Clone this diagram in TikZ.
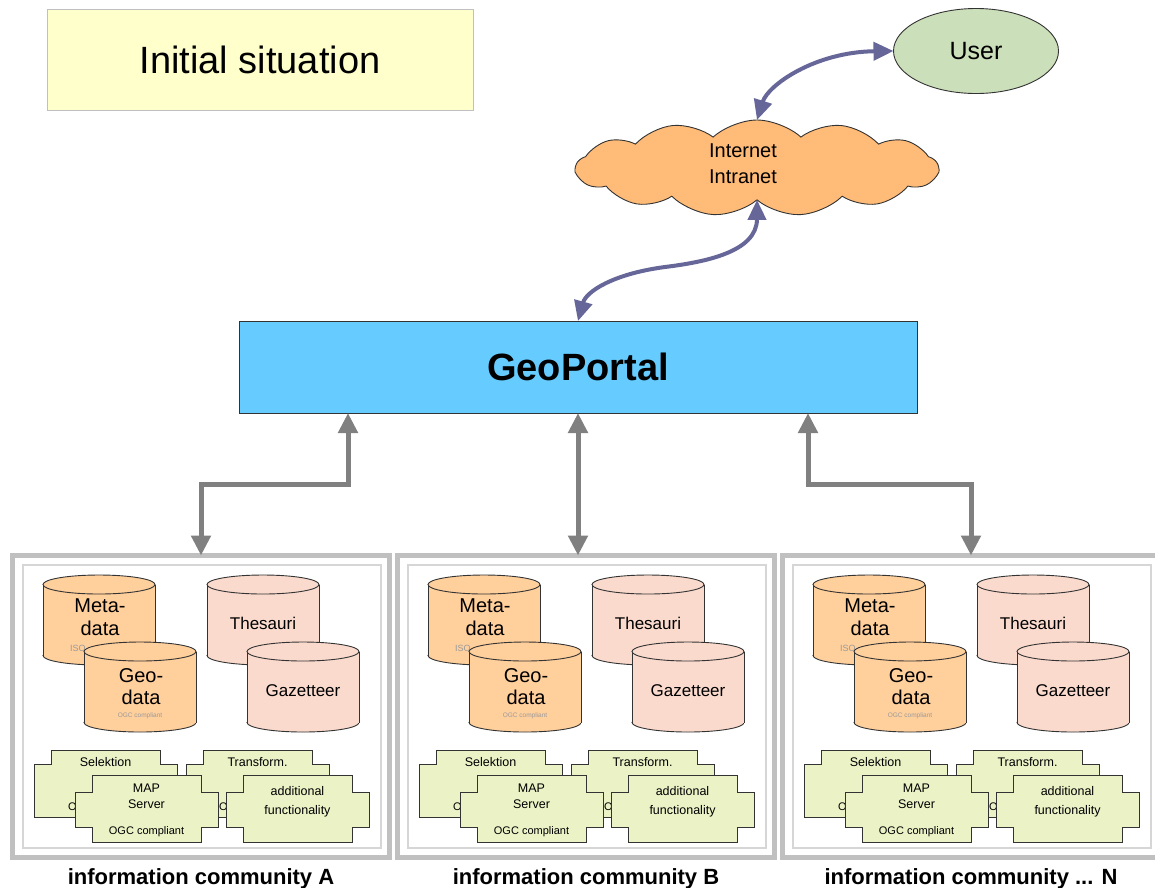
\documentclass[tikz,border=0pt]{standalone}
\usepackage{fontspec}
\setmainfont{Liberation Sans}
\usetikzlibrary{shapes.symbols,shapes.geometric,arrows.meta}

\definecolor{titlefill}{HTML}{FFFFCC}
\definecolor{portalfill}{HTML}{66CCFF}
\definecolor{cloudfill}{HTML}{FFBB77}
\definecolor{userfill}{HTML}{CCDFBB}
\definecolor{metafill}{HTML}{FFCF9C}
\definecolor{thesfill}{HTML}{FADACD}
\definecolor{compfill}{HTML}{EBF2C6}
\definecolor{linedark}{HTML}{333333}
\definecolor{arrowgray}{HTML}{808080}
\definecolor{arrowblue}{HTML}{666699}
\definecolor{boxgray}{HTML}{C0C0C0}
\definecolor{boxlight}{HTML}{D6D6D6}
\definecolor{smallgray}{HTML}{9A9A9A}

\tikzset{
  every node/.style={inner sep=0pt, outer sep=0pt},
  fs/.style 2 args={font=\fontsize{#1}{#2}\selectfont},
  outerbox/.style={draw=boxgray, line width=5pt, fill=white, minimum width=377, minimum height=302, anchor=north west},
  innerbox/.style={draw=boxlight, line width=1.5pt},
  comp/.style={fill=compfill, draw=linedark, line width=0.9pt},
  cyl/.style={draw=linedark, line width=0.9pt},
  garrow/.style={draw=arrowgray, line width=5pt,
    {Triangle[width=19pt,length=20pt]}-{Triangle[width=19pt,length=20pt]}},
  parrow/.style={draw=arrowblue, line width=4pt,
    {Triangle[width=18pt,length=20pt]}-{Triangle[width=18pt,length=20pt]}},
  commlabel/.style={font=\bfseries\fontsize{22}{26}\selectfont, anchor=base},
}

% database cylinder: #1 name, #2 left x, #3 top y, #4 fill colour
\newcommand\dbcyl[4]{%
  \filldraw[cyl, fill=#4] ({#2+56},{#3+80.5}) ellipse [x radius=56, y radius=9.5];
  \fill[#4] (#2,{#3+9.5}) rectangle ({#2+112},{#3+80.5});
  \draw[cyl] (#2,{#3+9.5}) -- (#2,{#3+80.5}) ({#2+112},{#3+9.5}) -- ({#2+112},{#3+80.5});
  \filldraw[cyl, fill=#4] ({#2+56},{#3+9.5}) ellipse [x radius=56, y radius=9.5];
  \coordinate (#1) at ({#2+56},{#3+45});
}
% service block lying behind: tab on top, wide body below
\newcommand\backcomp[2]{%
  \filldraw[comp] (#1,#2) -- ++(109,0) -- ++(0,14) -- ++(17,0) -- ++(0,53)
    -- ++(-143,0) -- ++(0,-53) -- ++(17,0) -- cycle;
}
% service block in front: tabs on top and bottom
\newcommand\frontcomp[2]{%
  \filldraw[comp] (#1,#2) -- ++(109,0) -- ++(0,17) -- ++(17,0) -- ++(0,35)
    -- ++(-17,0) -- ++(0,15) -- ++(-109,0) -- ++(0,-15) -- ++(-17,0)
    -- ++(0,-35) -- ++(17,0) -- cycle;
}

% one information community: #1 horizontal shift, #2 name suffix, #3 caption
\newcommand\community[3]{%
\begin{scope}[xshift=#1pt]
  \node[outerbox] (box#2) at (12.5,555.5) {};
  \draw[innerbox] (23,565) rectangle (381,848);
  % databases
  \dbcyl{meta#2}{43}{575}{metafill}
  \node[fs={9}{10}, text=smallgray, anchor=west] (iso#2) at (70,648) {ISO};
  \node[fs={20}{23}, align=center] (metat#2) at (100,617) {Meta-\\data};
  \dbcyl{geod#2}{84}{642}{metafill}
  \node[fs={20}{22}, align=center] (geot#2) at (141,687) {Geo-\\data};
  \node[fs={6.5}{7}, text=smallgray] (geoc#2) at (140,716) {OGC compliant};
  \dbcyl{thes#2}{207}{575}{thesfill}
  \node[fs={17}{20}] (thest#2) at (263,623) {Thesauri};
  \dbcyl{gaz#2}{247}{642}{thesfill}
  \node[fs={17}{20}] (gazt#2) at (303,691) {Gazetteer};
  % services
  \backcomp{51}{750}
  \node[fs={12.5}{15}] (selt#2) at (105.5,762) {Selektion};
  \node[fs={11}{13}, anchor=west] (selc#2) at (68,807) {O};
  \backcomp{203}{750}
  \node[fs={12.5}{15}] (trat#2) at (257.5,762) {Transform.};
  \node[fs={11}{13}, anchor=west] (trac#2) at (219,807) {O};
  \frontcomp{92}{775}
  \node[fs={12.5}{16}, align=center] (mapt#2) at (146.5,796) {MAP\\Server};
  \node[fs={11}{13}] (mapc#2) at (146.5,832) {OGC compliant};
  \frontcomp{243}{775}
  \node[fs={12.5}{19}, align=center] (addt#2) at (297.5,802) {additional\\functionality};
  \node[commlabel] (lab#2) at (201,884) {#3};
\end{scope}}

\begin{document}
\begin{tikzpicture}[x=1pt, y=-1pt]
\useasboundingbox[fill=white] (0,0) rectangle (1155,887);

% heading
\node[draw=boxgray, line width=0.8pt, fill=titlefill, minimum width=426, minimum height=101,
      anchor=north west, fs={38}{44}] (title) at (47,9) {Initial situation};

% user and network
\node[ellipse, draw=linedark, line width=0.9pt, fill=userfill, minimum width=165, minimum height=85,
      fs={25}{30}] (user) at (976,51) {User};
\node[cloud, cloud puffs=13, cloud puff arc=85, cloud ignores aspect, draw=linedark, line width=0.9pt,
      fill=cloudfill, minimum width=362, minimum height=96] (net) at (757,168) {};
\node[fs={20}{26}, align=center] (nettext) at (743,164) {Internet\\Intranet};

% portal
\node[draw=linedark, line width=1pt, fill=portalfill, minimum width=678, minimum height=92,
      anchor=north west, font=\bfseries\fontsize{38}{44}\selectfont] (geo) at (239,321) {GeoPortal};

% communities
\community{0}{A}{information community A}
\community{385}{B}{information community B}
\community{770}{N}{information community ... N}

% network links
\draw[parrow] (net.north) .. controls (768,85) and (815,52) .. (user.west);
\draw[parrow] (net.south) .. controls (757,252) and (705,262) .. (665,267)
              .. controls (612,274) and (586,292) .. (geo.north);

% portal to communities
\draw[garrow] ([xshift=109pt]geo.south west) -- ++(0,71) -| (boxA.north);
\draw[garrow] (geo.south) -- (geo.south |- boxB.north);
\draw[garrow] ([xshift=-109pt]geo.south east) -- ++(0,71) -| (boxN.north);
\end{tikzpicture}
\end{document}
